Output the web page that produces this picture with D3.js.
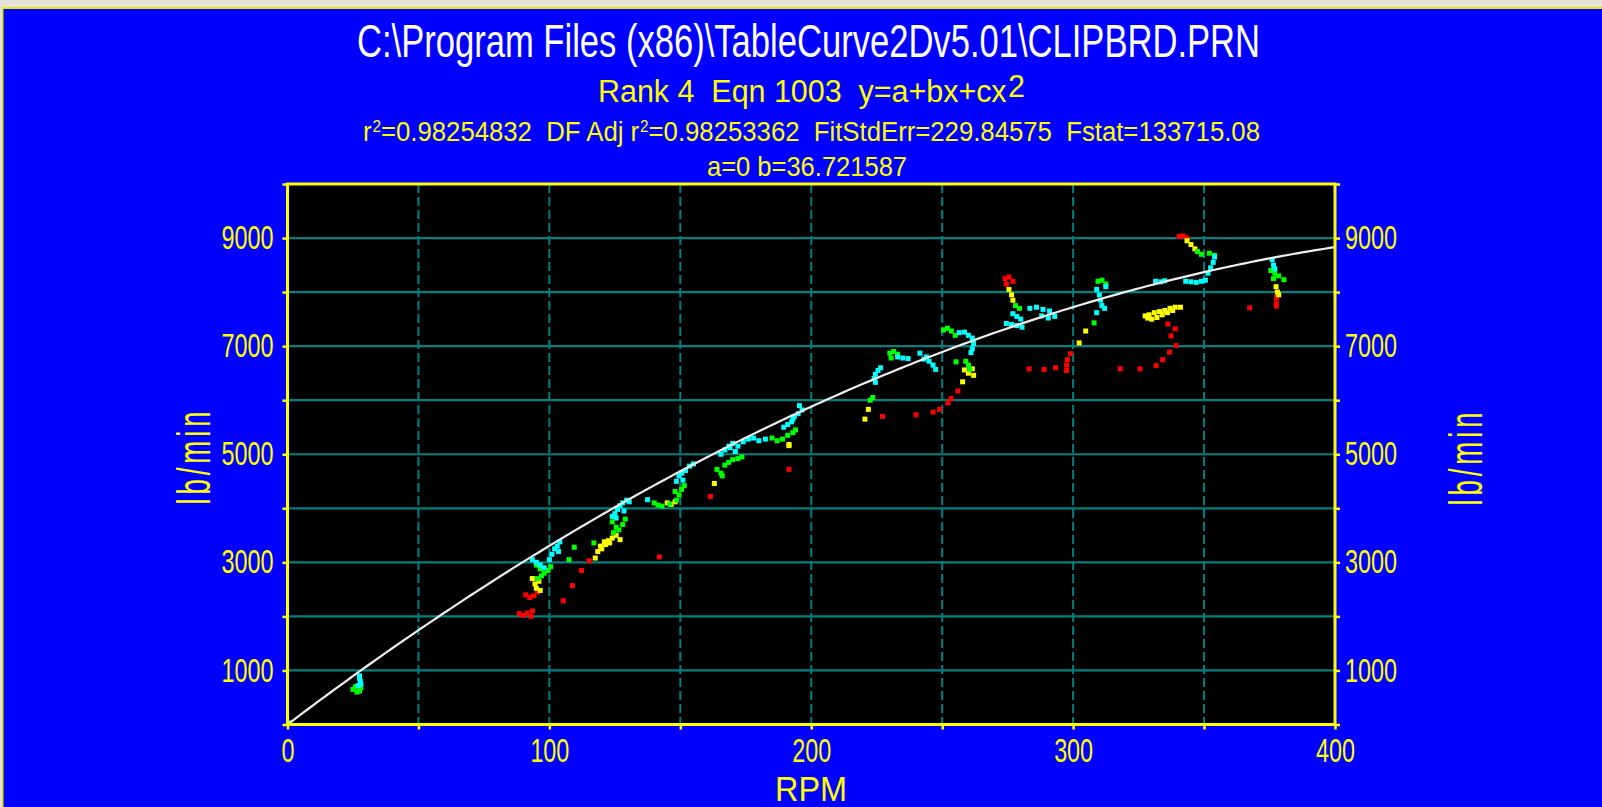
<!DOCTYPE html>
<html>
<head>
<meta charset="utf-8">
<script src="https://cdn.jsdelivr.net/npm/d3@7"></script>
<style>
body { margin: 0; background: #e6e2da; overflow: hidden; }
text { font-family: "Liberation Sans", Arial, sans-serif; white-space: pre; }
</style>
</head>
<body>
<script>
// text
var fileName = "C:\\Program Files (x86)\\TableCurve2Dv5.01\\CLIPBRD.PRN";
var xLabel = "RPM";
var yLabel = "lb/min";

// fit y = a + bx + cx^2 (c)
var fitA = 0, fitB = 36.721587, fitC = -0.0366;

var xTickLabels = [0, 100, 200, 300, 400];
var yTickLabels = [1000, 3000, 5000, 7000, 9000];

// [rpm, lb/min]
var redPts = [[91,2400],[92.5,2350],[94,2380],[95.5,2450],[88.5,2050],[90,2020],[91.5,2060],[93,2000],[93.5,2100],
	[105.3,2290],[108.8,2570],[112.3,2850],[115.2,3030],[142,3100],[161.5,4220],[191.5,4720],
	[227.2,5700],[240,5730],[246.5,5780],[249,5830],[252.2,5950],[253.4,6030],[256,6170],
	[274,8250],[275.5,8280],[277,8200],[274.5,8150],
	[283.2,6580],[288.9,6570],[293.3,6600],[297.5,6550],[297.5,6650],[297.8,6750],[299,6860],
	[318,6580],[325.5,6580],[331.7,6640],[334.2,6750],[336.8,6890],[339.3,7010],[337.4,7190],[339,7320],[336.2,7410],
	[340.5,9030],[342,9040],[343.5,9000],[367.4,7710],[377.6,7900],[377.6,7800],[377.6,7740]];

var yellowPts = [[93.5,2700],[94.5,2600],[96,2650],[95,2520],[96.5,2480],
	[117.5,3080],[118.5,3200],[119.5,3300],[121,3380],[122.5,3400],[124,3450],[125.5,3500],[127,3420],[120,3250],[121.5,3330],[123,3360],
	[145,4100],[146.5,4070],[148,4120],[163,4460],[191.5,5180],[191.5,5160],
	[220.5,5650],[221.8,5830],
	[258.5,6560],[260,6500],[261.5,6580],[262,6460],[257.8,6340],
	[275.5,8050],[276.5,7950],[277,7850],[302.3,7060],[304.8,7280],
	[327.5,7560],[329,7580],[331,7620],[333,7640],[335,7660],[337,7700],[339,7720],[341,7720],[330,7500],[332,7530],
	[334,7580],[336,7620],[338,7660],[328.5,7520],
	[343.5,8950],[345,8880],[346.5,8800],[377.5,8100],[378,8000],[378.5,7950]];

var greenPts = [[25,650],[26.5,600],[27.5,620],[28,680],[26,700],
	[95,2950],[96.5,2880],[98,2800],[99.5,2850],[100.5,2920],[97,2750],[95.5,2700],
	[107.5,3050],[109.5,3280],[117,3360],
	[124,3750],[125.5,3650],[126.5,3600],[128,3700],[129,3800],[124.5,3550],
	[140,4100],[141.5,4060],[143,4040],[146,4080],[148.5,4150],[149.5,4250],[150.5,4350],[151.5,4420],[148,4310],
	[164,4720],[165.5,4650],[167,4800],[168.5,4850],[170,4900],[172,4920],[173.5,4950],[166,4600],
	[185,5300],[187,5250],[189,5280],[191,5350],[193,5400],[194,5450],
	[222.5,6000],[223.5,6050],[230,6870],[231.5,6900],[233,6850],[230.5,6780],
	[250.5,7300],[252,7330],[253.5,7280],[255,7200],[255.3,6710],[259,6720],[260,6650],[260.5,6570],
	[278,7750],[279.5,7700],[308,7430],[309.5,8200],[311,8220],[312.5,8150],
	[347.5,8750],[349,8700],[352,8720],[354,8680],
	[375.5,8400],[377,8350],[378.5,8300],[380.5,8230],[376.5,8250]];

var cyanPts = [[0.5,30],[27.5,900],[27.5,850],[27.8,800],[28,750],[27,720],
	[93.5,3050],[95,3000],[96.5,2950],[98,2900],[100,3050],[101,3150],[102,3250],[103,3300],[104,3380],[103.5,3200],
	[124,3850],[125,3900],[126,3980],[127,4050],[128,4100],[129.5,4150],[130.5,4120],[128.5,3950],[125.5,3820],
	[137.5,4160],[148.5,4500],[149.5,4600],[150.5,4650],[152,4700],[153.5,4780],[155,4820],[151,4520],
	[165.5,5000],[167,5080],[168.5,5150],[170,5200],[172,5150],[174,5230],[176,5280],[178,5300],[180,5250],[182.5,5280],[171,5050],[169,5120],
	[189.5,5500],[191,5550],[192.5,5600],[193.5,5700],[195,5750],[196.5,5820],[195.5,5900],[193,5650],
	[224,6400],[224.5,6480],[225.5,6550],[226.5,6600],[224.5,6330],
	[233,6800],[235,6780],[237,6770],[241.5,6870],[244,6800],[245,6720],[246.5,6650],[247.5,6570],[243,6760],
	[256.5,7250],[258.5,7260],[260,7200],[261.5,7150],[262,7050],[261.5,6950],[261,6880],
	[277,7600],[278.5,7550],[280,7500],[274.5,7420],[276.5,7400],[278.5,7380],[280.5,7350],
	[283.5,7700],[286,7720],[288.5,7680],[291,7650],[293,7550],[290.5,7520],[288,7560],
	[309,8050],[310,7950],[310.5,7850],[311,7750],[312,7700],[309,7620],[312.5,8100],
	[331.5,8200],[333.5,8190],[335,8210],[343,8200],[345,8190],[347,8180],[349,8200],[350.5,8220],
	[351.5,8350],[352.5,8450],[353.5,8550],[354,8650],[376,8600],[376.5,8500],[377,8430]];

var W = 1602, H = 807;
var plot = {left: 287.5, right: 1335, top: 184, bottom: 724.5};
var yellow = "#ffff00", grid = "#008080";

var x = d3.scaleLinear().domain([0, 400]).range([plot.left, plot.right]);
var y = d3.scaleLinear().domain([0, 10000]).range([plot.bottom, plot.top]);

var svg = d3.select("body").append("svg")
	.attr("width", W)
	.attr("height", H);

// window panel
svg.append("rect").attr("x", 2).attr("y", 7).attr("width", W).attr("height", H)
	.attr("fill", "#e8e800");
svg.append("rect").attr("x", 3.5).attr("y", 9).attr("width", W).attr("height", H)
	.attr("fill", "#0000ff");

function label(g, str, cx, cy, size, len, fill) {
	return g.append("text")
		.attr("x", cx).attr("y", cy)
		.attr("text-anchor", "middle")
		.attr("font-size", size)
		.attr("fill", fill)
		.attr("textLength", len)
		.attr("lengthAdjust", "spacingAndGlyphs")
		.text(str);
}

// titles
label(svg, fileName, 808.5, 57, 46, 903, "#ffffff");

var t2 = svg.append("text").attr("x", 811.5).attr("y", 102)
	.attr("text-anchor", "middle").attr("font-size", 31).attr("fill", yellow)
	.attr("textLength", 427).attr("lengthAdjust", "spacingAndGlyphs");
t2.append("tspan").text("Rank 4  Eqn 1003  y=a+bx+cx");
t2.append("tspan").attr("dx", 1.5).attr("dy", -5).text("2");

var t3 = svg.append("text").attr("x", 811.5).attr("y", 141)
	.attr("text-anchor", "middle").attr("font-size", 27).attr("fill", yellow)
	.attr("textLength", 897).attr("lengthAdjust", "spacingAndGlyphs");
t3.append("tspan").text("r");
t3.append("tspan").attr("dx", 1).attr("dy", -9).attr("font-size", 16).text("2");
t3.append("tspan").attr("dy", 9).text("=0.98254832  DF Adj r");
t3.append("tspan").attr("dx", 1).attr("dy", -9).attr("font-size", 16).text("2");
t3.append("tspan").attr("dy", 9).text("=0.98253362  FitStdErr=229.84575  Fstat=133715.08");

label(svg, "a=" + fitA + " b=" + fitB, 807, 176, 28, 200, yellow);

// plot area
svg.append("rect")
	.attr("x", plot.left).attr("y", plot.top)
	.attr("width", plot.right - plot.left).attr("height", plot.bottom - plot.top)
	.attr("fill", "#000000");

svg.append("g").selectAll("line")
	.data(d3.range(1000, 10000, 1000))
	.enter().append("line")
	.attr("x1", plot.left).attr("x2", plot.right)
	.attr("y1", function (d) { return y(d); })
	.attr("y2", function (d) { return y(d); })
	.attr("stroke", grid).attr("stroke-width", 2.2);

svg.append("g").selectAll("line")
	.data(d3.range(50, 400, 50))
	.enter().append("line")
	.attr("y1", plot.top).attr("y2", plot.bottom)
	.attr("x1", function (d) { return x(d); })
	.attr("x2", function (d) { return x(d); })
	.attr("stroke", grid).attr("stroke-width", 2)
	.attr("stroke-dasharray", "9,4");

// data points
var series = [[redPts, "#ff0000"], [yellowPts, "#ffff00"], [greenPts, "#00ff00"], [cyanPts, "#00ffff"]];
series.forEach(function (s) {
	svg.append("g").selectAll("rect")
		.data(s[0])
		.enter().append("rect")
		.attr("x", function (d) { return x(d[0]) - 2.5; })
		.attr("y", function (d) { return y(d[1]) - 2.5; })
		.attr("width", 5).attr("height", 5)
		.attr("fill", s[1]);
});

// fitted curve
var curve = d3.range(0, 401, 2).map(function (v) { return [v, fitA + fitB * v + fitC * v * v]; });
svg.append("path")
	.datum(curve)
	.attr("fill", "none")
	.attr("stroke", "#eeeeee")
	.attr("stroke-width", 2.2)
	.attr("d", d3.line()
		.x(function (d) { return x(d[0]); })
		.y(function (d) { return y(d[1]); }));

// frame
svg.append("rect")
	.attr("x", plot.left).attr("y", plot.top)
	.attr("width", plot.right - plot.left).attr("height", plot.bottom - plot.top)
	.attr("fill", "none").attr("stroke", yellow).attr("stroke-width", 3);

function styleAxis(g) {
	g.select(".domain").remove();
	g.selectAll(".tick line").attr("stroke", yellow).attr("stroke-width", 2.5);
	g.selectAll(".tick text")
		.attr("fill", yellow)
		.attr("font-size", 33)
		.attr("font-family", "Liberation Sans, Arial, sans-serif")
		.attr("lengthAdjust", "spacingAndGlyphs")
		.attr("textLength", function () { return this.textContent.length * 13; })
		.filter(function () { return this.textContent === ""; })
		.remove();
}

function yFmt(d) { return yTickLabels.indexOf(d) >= 0 ? d : ""; }
function xFmt(d) { return xTickLabels.indexOf(d) >= 0 ? d : ""; }

svg.append("g")
	.attr("transform", "translate(" + plot.left + ",0)")
	.call(d3.axisLeft(y).tickValues(d3.range(0, 10001, 1000)).tickSize(5).tickPadding(9).tickFormat(yFmt))
	.call(styleAxis);

svg.append("g")
	.attr("transform", "translate(" + plot.right + ",0)")
	.call(d3.axisRight(y).tickValues(d3.range(0, 10001, 1000)).tickSize(5).tickPadding(5).tickFormat(yFmt))
	.call(styleAxis);

svg.append("g")
	.attr("transform", "translate(0," + plot.bottom + ")")
	.call(d3.axisBottom(x).tickValues(d3.range(0, 401, 50)).tickSize(5).tickPadding(9).tickFormat(xFmt))
	.call(styleAxis);

// axis titles
label(svg, xLabel, 811, 801, 35, 72, yellow);

function yTitle(bx, cy) {
	svg.append("g")
		.attr("transform", "translate(" + bx + "," + cy + ") rotate(-90) scale(0.6,1)")
		.append("text")
		.attr("text-anchor", "middle")
		.attr("font-size", 46)
		.attr("letter-spacing", 6.5)
		.attr("fill", yellow)
		.text(yLabel);
}
yTitle(210, 456);
yTitle(1482, 457);
</script>
</body>
</html>
